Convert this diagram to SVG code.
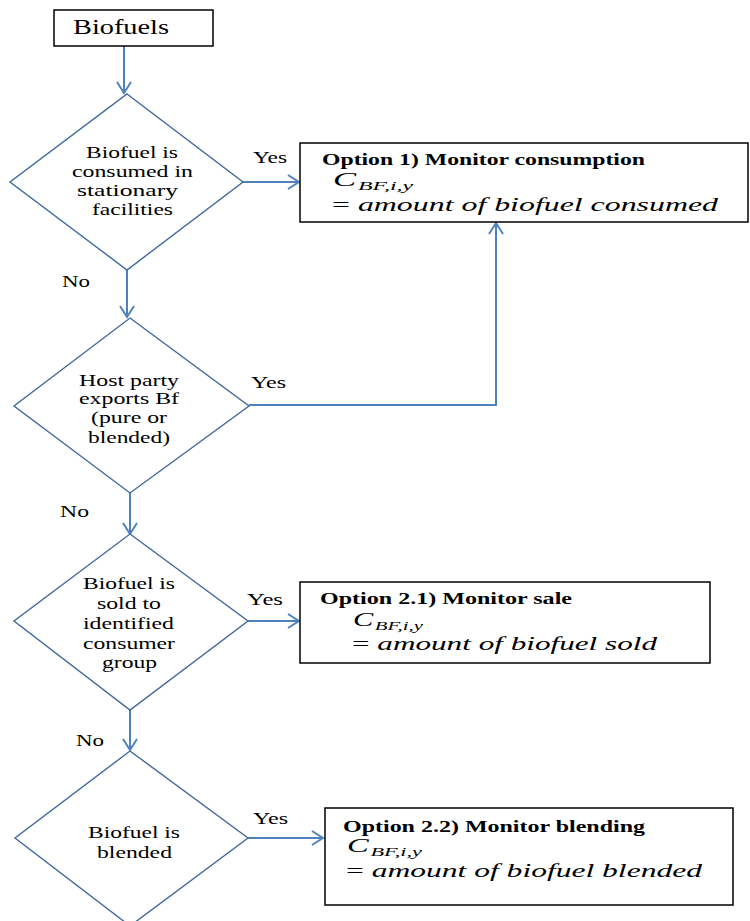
<svg xmlns="http://www.w3.org/2000/svg" width="750" height="921" viewBox="0 0 750 921">
<style>
.t{font-family:"Liberation Serif","Times New Roman",serif;font-size:17px;fill:#000}
.b{font-weight:bold}
.m{font-family:"Liberation Serif","DejaVu Serif",serif;font-style:italic;font-size:19px;fill:#000}
.s{font-size:13px}
.box{fill:#fff;stroke:#000;stroke-width:1.5}
.dia{fill:#fff;stroke:#3E6A9E;stroke-width:1.4}
.con{fill:none;stroke:#4F81BD;stroke-width:2}
</style>
<defs>
<marker id="ah" markerUnits="userSpaceOnUse" markerWidth="14" markerHeight="16" refX="12" refY="8" orient="auto">
<path d="M1,1 L12,8 L1,15" fill="none" stroke="#4F81BD" stroke-width="2"/>
</marker>
</defs>
<g id="connectors">
<line class="con" x1="124" y1="46" x2="124" y2="93" marker-end="url(#ah)"/>
<line class="con" x1="243" y1="182" x2="299" y2="182" marker-end="url(#ah)"/>
<line class="con" x1="127" y1="270" x2="127" y2="317" marker-end="url(#ah)"/>
<polyline class="con" points="249,405 496,405 496,223" marker-end="url(#ah)"/>
<line class="con" x1="130" y1="493" x2="130" y2="534" marker-end="url(#ah)"/>
<line class="con" x1="248" y1="621" x2="299" y2="621" marker-end="url(#ah)"/>
<line class="con" x1="130" y1="710" x2="130" y2="750" marker-end="url(#ah)"/>
<line class="con" x1="248" y1="838" x2="323" y2="838" marker-end="url(#ah)"/>
<text class="t" x="253" y="163" textLength="34" lengthAdjust="spacingAndGlyphs">Yes</text>
<text class="t" x="62" y="287" textLength="28" lengthAdjust="spacingAndGlyphs">No</text>
<text class="t" x="251" y="388" textLength="35" lengthAdjust="spacingAndGlyphs">Yes</text>
<text class="t" x="60" y="517" textLength="29" lengthAdjust="spacingAndGlyphs">No</text>
<text class="t" x="247" y="605" textLength="36" lengthAdjust="spacingAndGlyphs">Yes</text>
<text class="t" x="76" y="746" textLength="28" lengthAdjust="spacingAndGlyphs">No</text>
<text class="t" x="253" y="824" textLength="35" lengthAdjust="spacingAndGlyphs">Yes</text>
</g>
<g id="biofuels">
<rect class="box" x="54" y="10" width="159" height="36"/>
<text class="t" x="73" y="34" style="font-size:20px" textLength="96" lengthAdjust="spacingAndGlyphs">Biofuels</text>
</g>
<g id="decision1">
<polygon class="dia" points="127,94 243,182 127,270 10,182"/>
<text class="t" x="86" y="158" textLength="92" lengthAdjust="spacingAndGlyphs">Biofuel is</text>
<text class="t" x="72" y="177" textLength="121" lengthAdjust="spacingAndGlyphs">consumed in</text>
<text class="t" x="77" y="196" textLength="101" lengthAdjust="spacingAndGlyphs">stationary</text>
<text class="t" x="92" y="215" textLength="81" lengthAdjust="spacingAndGlyphs">facilities</text>
</g>
<g id="option1">
<rect class="box" x="300" y="143" width="448" height="79"/>
<text class="t b" x="322" y="165" textLength="323" lengthAdjust="spacingAndGlyphs">Option 1) Monitor consumption</text>
<text class="m" x="333" y="186" textLength="80" lengthAdjust="spacingAndGlyphs">C<tspan class="s" dy="4" dx="1">BF,i,y</tspan></text>
<text class="m" x="332" y="211" textLength="386" lengthAdjust="spacingAndGlyphs"><tspan style="font-style:normal">=</tspan> amount of biofuel consumed</text>
</g>
<g id="decision2">
<polygon class="dia" points="130,318 249,406 130,493 14,406"/>
<text class="t" x="79" y="386" textLength="100" lengthAdjust="spacingAndGlyphs">Host party</text>
<text class="t" x="79" y="404" textLength="100" lengthAdjust="spacingAndGlyphs">exports Bf</text>
<text class="t" x="91" y="423" textLength="76" lengthAdjust="spacingAndGlyphs">(pure or</text>
<text class="t" x="88" y="443" textLength="82" lengthAdjust="spacingAndGlyphs">blended)</text>
</g>
<g id="decision3">
<polygon class="dia" points="130,534 248,621 130,710 14,621"/>
<text class="t" x="83" y="589" textLength="92" lengthAdjust="spacingAndGlyphs">Biofuel is</text>
<text class="t" x="97" y="609" textLength="64" lengthAdjust="spacingAndGlyphs">sold to</text>
<text class="t" x="83" y="629" textLength="91" lengthAdjust="spacingAndGlyphs">identified</text>
<text class="t" x="83" y="649" textLength="92" lengthAdjust="spacingAndGlyphs">consumer</text>
<text class="t" x="102" y="668" textLength="55" lengthAdjust="spacingAndGlyphs">group</text>
</g>
<g id="option21">
<rect class="box" x="300" y="582" width="410" height="81"/>
<text class="t b" x="320" y="604" textLength="252" lengthAdjust="spacingAndGlyphs">Option 2.1) Monitor sale</text>
<text class="m" x="353" y="626" textLength="70" lengthAdjust="spacingAndGlyphs">C<tspan class="s" dy="4" dx="1">BF,i,y</tspan></text>
<text class="m" x="352" y="650" textLength="305" lengthAdjust="spacingAndGlyphs"><tspan style="font-style:normal">=</tspan> amount of biofuel sold</text>
</g>
<g id="decision4">
<polygon class="dia" points="130,751 248,838 130,926 15,838"/>
<text class="t" x="88" y="838" textLength="92" lengthAdjust="spacingAndGlyphs">Biofuel is</text>
<text class="t" x="97" y="858" textLength="75" lengthAdjust="spacingAndGlyphs">blended</text>
</g>
<g id="option22">
<rect class="box" x="325" y="808" width="408" height="97"/>
<text class="t b" x="343" y="832" textLength="302" lengthAdjust="spacingAndGlyphs">Option 2.2) Monitor blending</text>
<text class="m" x="347" y="852" textLength="75" lengthAdjust="spacingAndGlyphs">C<tspan class="s" dy="4" dx="1">BF,i,y</tspan></text>
<text class="m" x="346" y="877" textLength="356" lengthAdjust="spacingAndGlyphs"><tspan style="font-style:normal">=</tspan> amount of biofuel blended</text>
</g>
</svg>
